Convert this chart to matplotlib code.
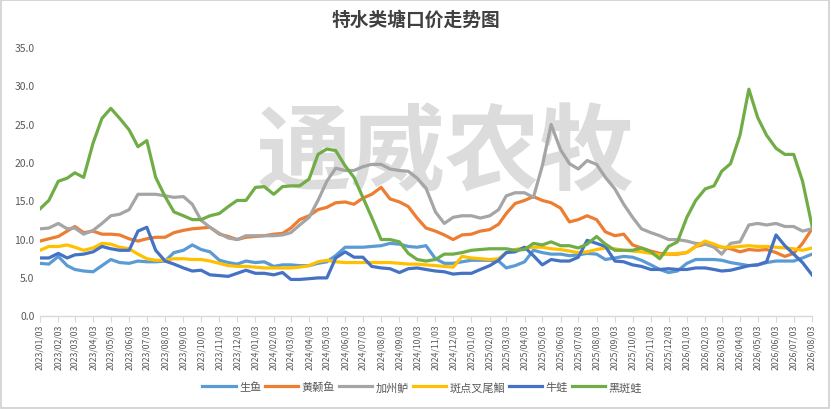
import matplotlib
matplotlib.use("Agg")
import matplotlib.pyplot as plt
import matplotlib.dates as mdates
import pandas as pd
from datetime import date
from matplotlib.patches import Rectangle

plt.rcParams['font.family'] = ['Noto Sans CJK SC', 'DejaVu Sans']

# ---- data (semi-monthly readings: 3rd and 18th of each month) ----
months = pd.period_range("2023-01", "2026-07", freq="M")
dates = []
for p in months:
    dates.append(date(p.year, p.month, 3))
    dates.append(date(p.year, p.month, 18))
dates.append(date(2026, 8, 3))

series_names = ["生鱼", "黄颡鱼", "加州鲈", "斑点叉尾鮰", "牛蛙", "黑斑蛙"]

shengyu = [6.8, 6.7, 7.7, 6.5, 6.0, 5.8, 5.7, 6.5, 7.3, 6.9, 6.8, 7.1, 7.0, 7.0, 7.1, 8.2,
           8.5, 9.2, 8.6, 8.3, 7.2, 6.9, 6.7, 7.1, 6.9, 7.0, 6.4, 6.6, 6.6, 6.5, 6.5, 6.8,
           7.0, 7.8, 8.9, 8.9, 8.9, 9.0, 9.1, 9.4, 9.3, 9.0, 8.9, 9.1, 7.4, 6.8, 6.8, 7.0,
           7.2, 7.2, 7.2, 7.1, 6.2, 6.5, 7.0, 8.5, 8.2, 8.0, 8.0, 7.8, 7.9, 8.1, 8.0, 7.3,
           7.5, 7.7, 7.6, 7.2, 6.6, 6.0, 5.6, 5.8, 6.8, 7.3, 7.3, 7.3, 7.2, 6.9, 6.7, 6.5,
           6.6, 6.9, 7.1, 7.1, 7.1, 7.5, 8.0]

huangsang = [9.7, 10.0, 10.3, 11.0, 11.6, 10.8, 11.0, 10.6, 10.6, 10.5, 10.0, 9.7, 10.0, 10.2, 10.2, 10.8,
             11.1, 11.3, 11.4, 11.5, 10.6, 10.3, 9.9, 10.2, 10.3, 10.4, 10.6, 10.7, 11.4, 12.5, 13.0, 13.8,
             14.1, 14.7, 14.8, 14.5, 15.3, 15.8, 16.7, 15.2, 14.8, 14.2, 12.7, 11.4, 11.0, 10.5, 9.9, 10.5,
             10.6, 11.0, 11.2, 11.9, 13.3, 14.6, 15.0, 15.5, 15.0, 14.7, 14.0, 12.2, 12.5, 13.0, 12.5, 10.9,
             10.4, 10.6, 9.2, 8.8, 8.4, 8.1, 8.0, 8.0, 8.2, 9.0, 9.3, 9.1, 8.9, 8.7, 8.3, 8.6,
             8.5, 8.6, 8.2, 7.7, 8.1, 9.4, 11.3]

jiazhoulu = [11.3, 11.4, 12.0, 11.3, 11.4, 10.6, 11.1, 12.0, 13.0, 13.2, 13.8, 15.8, 15.8, 15.8, 15.6, 15.4,
             15.5, 14.5, 12.4, 11.5, 10.7, 10.1, 9.9, 10.4, 10.4, 10.4, 10.4, 10.5, 10.8, 11.8, 12.8, 15.0,
             17.5, 19.2, 18.9, 18.9, 19.4, 19.7, 19.7, 19.1, 18.9, 18.8, 17.9, 16.6, 13.5, 12.0, 12.8, 13.0,
             13.0, 12.7, 13.0, 13.8, 15.6, 16.0, 16.0, 15.4, 19.5, 24.9, 21.6, 19.8, 19.1, 20.2, 19.7, 18.0,
             16.5, 14.5, 12.8, 11.3, 10.8, 10.4, 9.9, 9.9, 9.7, 9.4, 9.3, 8.9, 8.0, 9.4, 9.6, 11.8,
             12.0, 11.8, 12.0, 11.6, 11.6, 11.0, 11.3]

banhui = [8.5, 9.0, 9.0, 9.2, 8.9, 8.5, 8.8, 9.4, 9.3, 8.9, 8.7, 8.0, 7.4, 7.2, 7.2, 7.4,
          7.4, 7.3, 7.3, 7.1, 6.8, 6.5, 6.4, 6.4, 6.3, 6.2, 6.2, 6.2, 6.2, 6.3, 6.5, 7.0,
          7.2, 7.0, 6.9, 6.9, 6.9, 6.9, 6.9, 6.9, 6.8, 6.7, 6.7, 6.6, 6.5, 6.4, 6.3, 7.7,
          7.5, 7.4, 7.3, 7.4, 8.2, 8.6, 8.8, 8.9, 8.9, 8.7, 8.6, 8.4, 8.2, 8.3, 8.6, 8.8,
          8.7, 8.5, 8.4, 8.3, 8.1, 7.9, 8.0, 8.1, 8.2, 9.0, 9.7, 9.3, 8.9, 8.9, 9.0, 9.1,
          9.0, 9.0, 8.9, 8.8, 8.7, 8.5, 8.8]

niuwa = [7.5, 7.5, 8.1, 7.5, 7.9, 8.0, 8.3, 9.0, 8.7, 8.5, 8.5, 11.0, 11.5, 8.5, 7.1, 6.7,
         6.2, 5.8, 5.9, 5.3, 5.2, 5.1, 5.5, 5.9, 5.5, 5.5, 5.3, 5.6, 4.7, 4.7, 4.8, 4.9,
         4.9, 7.5, 8.3, 7.6, 7.6, 6.4, 6.2, 6.1, 5.6, 6.1, 6.2, 6.0, 5.8, 5.7, 5.4, 5.5,
         5.5, 6.0, 6.5, 7.2, 8.2, 8.3, 8.9, 7.8, 6.6, 7.3, 7.1, 7.1, 7.6, 9.8, 9.4, 9.0,
         7.1, 7.0, 6.6, 6.4, 6.0, 6.0, 6.1, 6.0, 6.0, 6.2, 6.2, 6.0, 5.8, 5.9, 6.2, 6.5,
         6.6, 7.0, 10.5, 9.1, 8.0, 6.9, 5.3]

heibanwa = [13.9, 15.0, 17.5, 17.9, 18.6, 18.0, 22.5, 25.7, 27.0, 25.7, 24.2, 22.0, 22.8, 18.0, 15.5, 13.5,
            13.0, 12.5, 12.5, 13.0, 13.3, 14.2, 15.0, 15.0, 16.7, 16.8, 15.8, 16.8, 16.9, 16.9, 17.8, 21.0,
            21.7, 21.5, 19.5, 18.0, 15.4, 12.8, 9.9, 9.9, 9.6, 8.1, 7.3, 7.1, 7.3, 8.0, 8.0, 8.2,
            8.5, 8.6, 8.7, 8.7, 8.7, 8.5, 8.6, 9.4, 9.2, 9.6, 9.1, 9.1, 8.8, 9.3, 10.3, 9.3,
            8.5, 8.5, 8.5, 8.8, 8.3, 7.4, 9.0, 9.6, 12.8, 15.0, 16.5, 16.9, 18.8, 19.8, 23.5, 29.5,
            25.8, 23.5, 21.8, 21.0, 21.0, 17.5, 11.7]

series_values = [shengyu, huangsang, jiazhoulu, banhui, niuwa, heibanwa]
series_colors = ["#5B9BD5", "#ED7D31", "#A5A5A5", "#FFC000", "#4472C4", "#70AD47"]

yticks = [0.0, 5.0, 10.0, 15.0, 20.0, 25.0, 30.0, 35.0]
title = "特水类塘口价走势图"
watermark = "通威农牧"

# ---- figure ----
W, H = 831, 410
fig = plt.figure(figsize=(W / 100, H / 100), dpi=100)
fig.patch.set_facecolor("white")
fig.patches.append(Rectangle((0.001, 0.002), 0.997, 0.995, transform=fig.transFigure,
                             fill=False, edgecolor="#d0d0d0", linewidth=1.2))

ax = fig.add_axes([40 / W, 1 - 316.5 / H, (812 - 40) / W, (316.5 - 48) / H])

for name, vals, col in zip(series_names, series_values, series_colors):
    ax.plot(dates, vals, color=col, lw=2.3, label=name, solid_joinstyle="round", zorder=3)

ax.set_ylim(0, 35)
ax.set_yticks(yticks)
ax.set_yticklabels([f"{v:.1f}" for v in yticks], color="#595959", fontsize=7.5)
ax.set_xlim(dates[0], dates[-1])

tick_dates = [date(2023 + (m // 12), m % 12 + 1, 3) for m in range(0, 44)]
ax.set_xticks(tick_dates)
ax.set_xticklabels([d.strftime("%Y/%m/%d") for d in tick_dates], rotation=90,
                   color="#595959", fontsize=6.3)

for s in ["top", "right", "left"]:
    ax.spines[s].set_visible(False)
ax.spines["bottom"].set_color("#d9d9d9")
ax.spines["bottom"].set_linewidth(1.0)
ax.tick_params(axis="y", length=0, pad=4)
ax.tick_params(axis="x", length=4, color="#d9d9d9", pad=2, direction="out")

ax.text(0.525, 0.60, watermark, transform=ax.transAxes, ha="center", va="center",
        fontsize=68, fontweight="bold", color="#dcdcdc", zorder=1)

fig.text(0.5, 1 - 20 / H, title, ha="center", va="center", fontsize=13.5,
         color="#404040", fontweight="bold")

leg = fig.legend(loc="center", bbox_to_anchor=(0.508, 1 - 388 / H), ncol=6, frameon=False,
                 fontsize=8, handlelength=3.0, columnspacing=0.35, handletextpad=0.3)
for t in leg.get_texts():
    t.set_color("#595959")

fig.savefig("out.png", dpi=100, facecolor="white")
